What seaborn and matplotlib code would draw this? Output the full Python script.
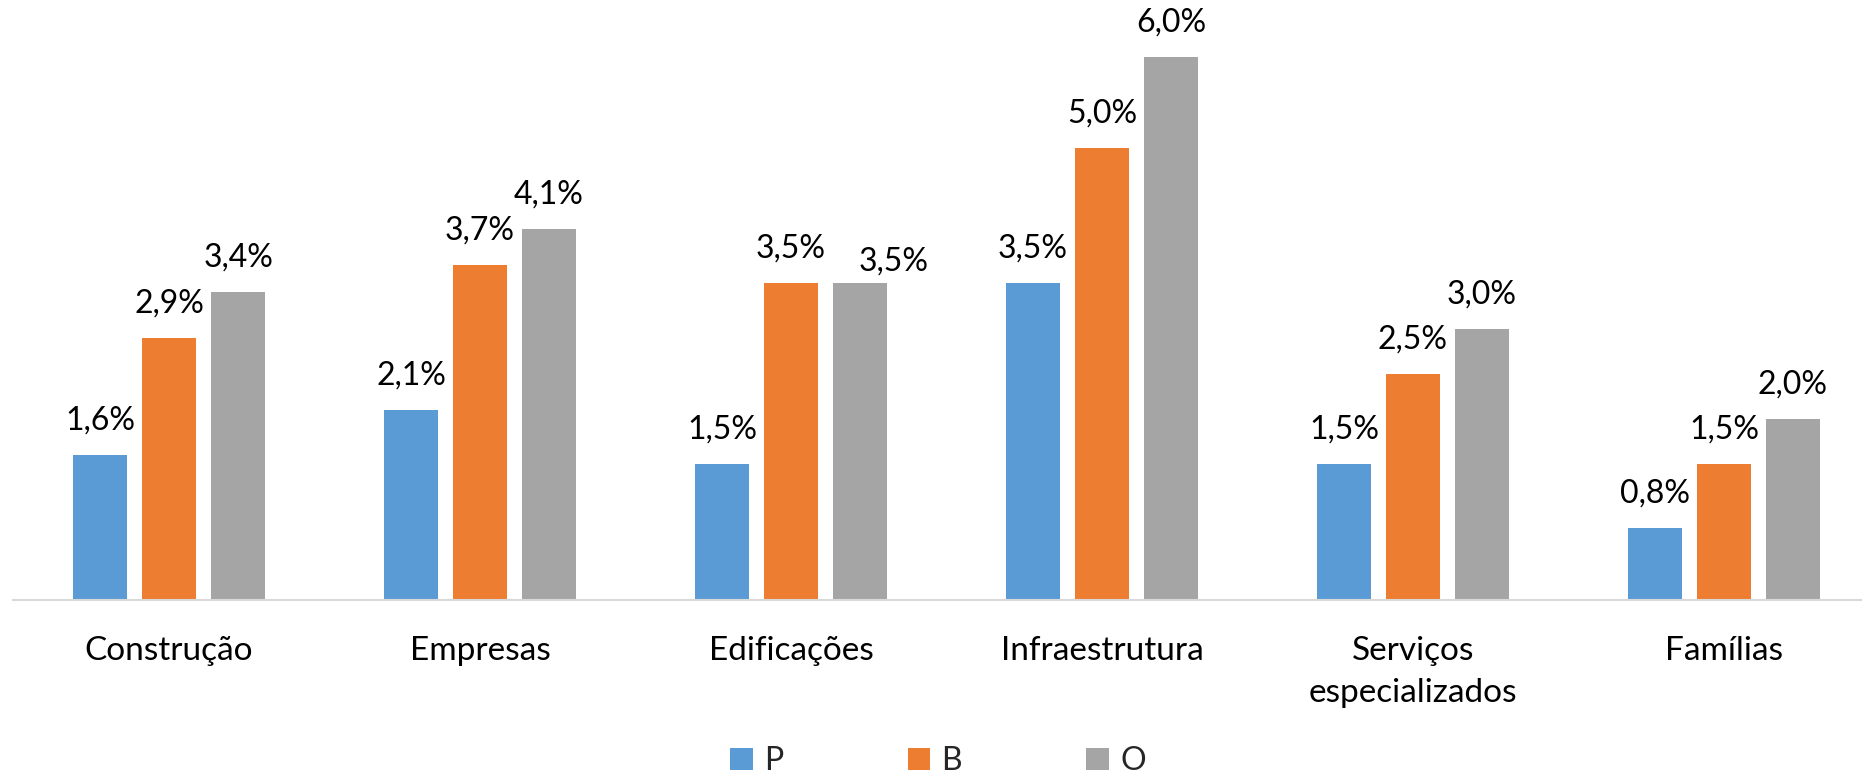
import matplotlib
matplotlib.use("Agg")
import matplotlib.pyplot as plt
from matplotlib.patches import Patch
import seaborn as sns
import pandas as pd

categorias = ["Construção", "Empresas", "Edificações", "Infraestrutura",
              "Serviços\nespecializados", "Famílias"]
cenarios = ["P", "B", "O"]
valores_p = [1.6, 2.1, 1.5, 3.5, 1.5, 0.8]
valores_b = [2.9, 3.7, 3.5, 5.0, 2.5, 1.5]
valores_o = [3.4, 4.1, 3.5, 6.0, 3.0, 2.0]
cores = ["#5B9BD5", "#ED7D31", "#A5A5A5"]

linhas = []
for cen, vals in zip(cenarios, [valores_p, valores_b, valores_o]):
    for cat, v in zip(categorias, vals):
        linhas.append({"categoria": cat, "cenario": cen, "valor": v})
df = pd.DataFrame(linhas)

sns.set_theme(style="white")
plt.rcParams["font.family"] = ["Lato", "DejaVu Sans"]

fig = plt.figure(figsize=(18.62, 7.78), dpi=100)
ax = fig.add_axes([13 / 1862, 1 - 600 / 778, 1 - 13 / 1862, 600 / 778])

sns.barplot(data=df, x="categoria", y="valor", hue="cenario",
            order=categorias, hue_order=cenarios, palette=cores,
            width=0.666, gap=0.22, saturation=1, ax=ax, legend=False,
            edgecolor="none")

# data labels; when two neighbouring labels in a group would collide,
# the second one is nudged to the right and slightly down
for i_cont, cont in enumerate(ax.containers):
    for i_bar, barra in enumerate(cont):
        v = barra.get_height()
        dx, dy = 0, 14
        if i_cont > 0:
            anterior = ax.containers[i_cont - 1][i_bar].get_height()
            if abs(anterior - v) < 0.05:
                dx, dy = 24, 5
        ax.annotate(f"{v:.1f}%".replace(".", ","),
                    (barra.get_x() + barra.get_width() / 2, v),
                    xytext=(dx, dy), textcoords="offset points",
                    ha="center", va="bottom", fontsize=23, color="#000000")

ax.set_xlim(-0.502, 5.444)
ax.set_ylim(0, 6.63)
ax.set_xlabel("")
ax.set_ylabel("")
ax.set_yticks([])
ax.tick_params(axis="x", length=0, pad=26, labelsize=24, colors="#000000")
for s in ["top", "right", "left"]:
    ax.spines[s].set_visible(False)
ax.spines["bottom"].set_color("#D9D9D9")
ax.spines["bottom"].set_linewidth(1.5)
for lab in ax.get_xticklabels():
    lab.set_linespacing(1.5)
    lab.set_va("top")

handles = [Patch(facecolor=c, edgecolor="none", label=n)
           for c, n in zip(cores, cenarios)]
fig.legend(handles=handles, loc="center", bbox_to_anchor=(938 / 1862, 1 - 761 / 778),
           ncol=3, frameon=False, fontsize=23, handlelength=0.7, handleheight=0.7,
           handletextpad=0.35, columnspacing=3.9)

fig.savefig("out.png", dpi=100)
